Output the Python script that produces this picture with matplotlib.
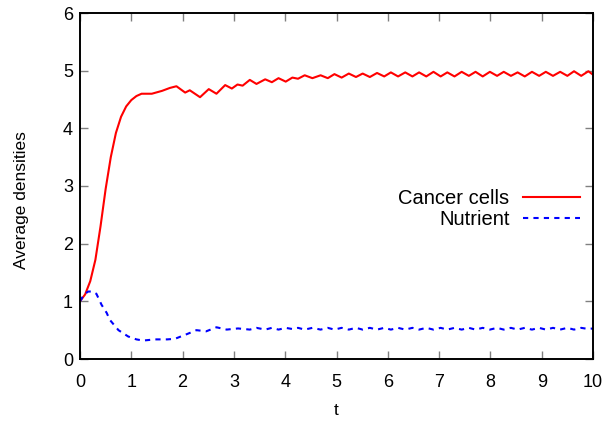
import numpy as np
import matplotlib
matplotlib.use('Agg')
import matplotlib.pyplot as plt

plt.rcParams['font.family'] = ['Liberation Sans', 'DejaVu Sans']

# cancer cell density
cancer_t = [0, 0.1, 0.2, 0.3, 0.4, 0.5, 0.6, 0.7, 0.8, 0.9, 1.0, 1.1, 1.2, 1.4, 1.6, 1.75,
            1.88, 2.05, 2.14, 2.34, 2.51, 2.66, 2.83, 2.96, 3.07, 3.17, 3.31, 3.44, 3.61,
            3.74, 3.87, 4.01, 4.14, 4.25, 4.38, 4.53,
            4.69, 4.83, 4.96, 5.10, 5.24, 5.38, 5.51, 5.65, 5.79, 5.93, 6.06, 6.20, 6.34,
            6.48, 6.61, 6.75, 6.89, 7.03, 7.16, 7.30, 7.44, 7.58, 7.71, 7.85, 7.99, 8.13,
            8.26, 8.40, 8.53, 8.67, 8.81, 8.95, 9.08, 9.22, 9.36, 9.50, 9.63, 9.77, 9.91,
            10.0]
cancer_v = [1.0, 1.12, 1.35, 1.72, 2.3, 2.95, 3.5, 3.92, 4.2, 4.38, 4.49, 4.56, 4.6, 4.6,
            4.65, 4.7, 4.73, 4.62, 4.66, 4.54, 4.68, 4.60, 4.75, 4.69, 4.76, 4.74, 4.84,
            4.77, 4.85, 4.80, 4.87, 4.81, 4.88, 4.86, 4.92, 4.87,
            4.92, 4.87, 4.94, 4.88, 4.95, 4.89, 4.95, 4.89, 4.96, 4.90, 4.97, 4.90, 4.97,
            4.90, 4.97, 4.90, 4.98, 4.90, 4.97, 4.90, 4.98, 4.91, 4.98, 4.90, 4.98, 4.91,
            4.98, 4.91, 4.97, 4.90, 4.98, 4.91, 4.98, 4.91, 4.98, 4.91, 4.99, 4.91, 4.99,
            4.93]

# nutrient density
nutr_t = [0, 0.08, 0.16, 0.25, 0.32, 0.42, 0.52, 0.58, 0.75, 0.94, 1.1, 1.23, 1.46, 1.7,
          1.85, 2.08, 2.27, 2.46, 2.66, 2.86, 3.08,
          3.31, 3.44, 3.61, 3.74, 3.87, 4.01, 4.14, 4.25, 4.38, 4.53,
          4.69, 4.83, 4.96, 5.10, 5.24, 5.38, 5.51, 5.65, 5.79, 5.93, 6.06, 6.20, 6.34,
          6.48, 6.61, 6.75, 6.89, 7.03, 7.16, 7.30, 7.44, 7.58, 7.71, 7.85, 7.99, 8.13,
          8.26, 8.40, 8.53, 8.67, 8.81, 8.95, 9.08, 9.22, 9.36, 9.50, 9.63, 9.77, 9.91,
          10.0]
nutr_v = [1.0, 1.12, 1.17, 1.17, 1.13, 0.94, 0.80, 0.68, 0.50, 0.39, 0.34, 0.32, 0.34,
          0.34, 0.35, 0.43, 0.50, 0.48, 0.55, 0.51, 0.53,
          0.51, 0.54, 0.51, 0.54, 0.51, 0.54, 0.52, 0.54, 0.51, 0.54,
          0.51, 0.54, 0.51, 0.54, 0.51, 0.54, 0.51, 0.54, 0.51, 0.54, 0.51, 0.54, 0.51,
          0.54, 0.51, 0.54, 0.51, 0.54, 0.51, 0.54, 0.51, 0.54, 0.51, 0.54, 0.51, 0.54,
          0.51, 0.54, 0.51, 0.54, 0.51, 0.54, 0.51, 0.54, 0.51, 0.54, 0.51, 0.54, 0.52,
          0.53]

xticks = np.arange(0, 11, 1)
yticks = np.arange(0, 7, 1)

fig = plt.figure(figsize=(6.08, 4.24), dpi=100)
ax = fig.add_axes([80/608, 1 - 359/424, 513/608, 346/424])

ax.plot(cancer_t, cancer_v, color='#ff0000', lw=1.5, label='Cancer cells',
        solid_joinstyle='round')
ax.plot(nutr_t, nutr_v, color='#0000ff', lw=1.5, dashes=(2.5, 2.5), label='Nutrient')

ax.set_xlim(0, 10)
ax.set_ylim(0, 6)
ax.set_xticks(xticks)
ax.set_yticks(yticks)
ax.tick_params(direction='in', length=6, width=1, color='#808080',
               top=True, right=True, labelsize=13, labelcolor='black')
ax.tick_params(axis='x', pad=10.5)
ax.tick_params(axis='y', pad=5)
for s in ax.spines.values():
    s.set_linewidth(1.4)

ax.set_xlabel('t', fontsize=12.5, labelpad=9)
ax.set_ylabel('Average densities', fontsize=12.5)
ax.yaxis.set_label_coords(-0.10, 0.46)

ax.legend(loc='upper right', bbox_to_anchor=(580/608, 1 - 189/424),
          bbox_transform=fig.transFigure, frameon=False, markerfirst=False,
          fontsize=14.5, handlelength=2.85, handletextpad=0.65, labelspacing=0.1,
          borderpad=0, borderaxespad=0)

fig.savefig('out.png', dpi=100)
